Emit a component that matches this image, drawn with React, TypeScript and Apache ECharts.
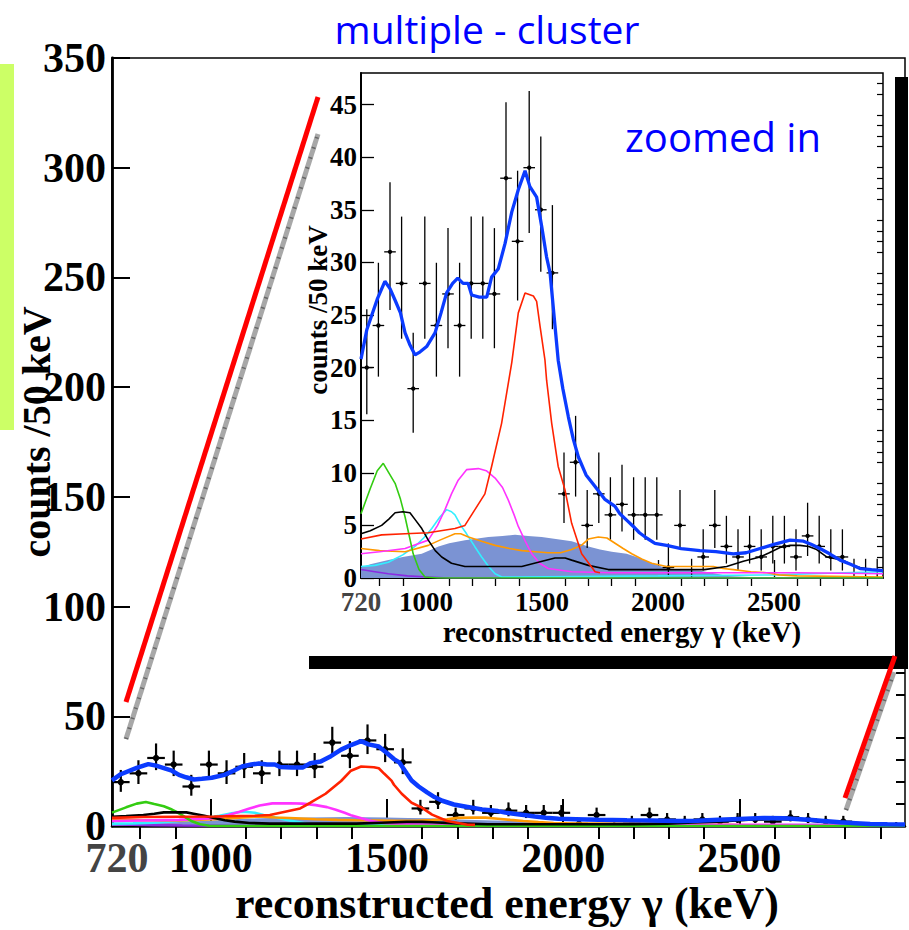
import React, { useEffect, useRef } from "react";
import * as echarts from "echarts";

// Energy range of the spectrum (keV) and the 50 keV binning
const E_MIN = 720;
const E_MAX = 2970;
const BIN_HALF = 25;

// Bin centres (keV) and measured counts per 50 keV bin
const binCenters = [
  745, 795, 845, 895, 945, 995, 1045, 1095, 1145, 1195, 1245, 1295, 1345, 1395, 1445,
  1495, 1545, 1595, 1645, 1695, 1745, 1795, 1845, 1895, 1945, 1995, 2045, 2095, 2145,
  2195, 2245, 2295, 2345, 2395, 2445, 2495, 2545, 2595, 2645, 2695, 2745, 2795, 2845,
  2895, 2945,
];
const counts = [
  20, 24, 31, 28, 18, 28, 24, 27, 24, 28, 28, 27, 38, 32, 39,
  35, 29, 8, 11, 5, 8, 6, 7, 6, 6, 6, 1, 5, 0,
  2, 5, 3, 2, 3, 2, 3, 3, 2, 4, 3, 2, 2, 0,
  0, 0,
];

// Fit components, [energy keV, counts]
const totalFit = [
  [720, 20.8], [745, 23.6], [790, 26.5], [823, 28.2], [845, 27.5], [867, 26.4], [890, 25.2],
  [910, 23.3], [930, 22.2], [953, 21.2], [975, 21.5], [1003, 22.0], [1039, 23.3], [1065, 25.2],
  [1089, 27.1], [1115, 28.0], [1137, 28.5], [1160, 28.0], [1182, 28.0], [1197, 26.9],
  [1230, 26.7], [1262, 26.7], [1283, 28.6], [1312, 29.4], [1341, 31.8], [1370, 34.8],
  [1398, 36.9], [1427, 38.7], [1448, 37.2], [1477, 36.2], [1499, 33.4], [1520, 30.5],
  [1535, 29.0], [1556, 24.0], [1570, 20.7], [1590, 18.0], [1614, 15.3], [1635, 13.2],
  [1657, 11.5], [1690, 9.8], [1729, 8.7], [1770, 7.5], [1815, 6.8], [1836, 6.1], [1865, 5.5],
  [1894, 4.9], [1920, 4.3], [1951, 3.8], [1987, 3.3], [2037, 3.1], [2100, 2.8], [2181, 2.6],
  [2250, 2.5], [2325, 2.3], [2380, 2.4], [2440, 2.8], [2500, 3.2], [2569, 3.6], [2627, 3.5],
  [2660, 3.2], [2698, 2.8], [2740, 2.3], [2785, 1.7], [2830, 1.3], [2871, 0.9], [2920, 0.8],
  [2970, 0.7],
];
const peakRed = [
  [720, 3.7], [809, 4.1], [910, 4.2], [1010, 4.3], [1125, 4.7], [1168, 5.0], [1211, 6.5],
  [1254, 8.0], [1283, 10.6], [1326, 14.7], [1370, 20.5], [1398, 25.2], [1427, 27.1],
  [1463, 26.8], [1477, 26.3], [1492, 23.9], [1513, 20.7], [1520, 18.8], [1542, 14.7],
  [1570, 10.6], [1599, 8.4], [1628, 5.2], [1671, 2.3], [1729, 0.6], [1750, 0.5],
];
const peakGreen = [
  [720, 6.1], [760, 8.5], [790, 10.2], [816, 10.9], [840, 10.0], [867, 9.0], [890, 7.5],
  [910, 5.8], [930, 3.8], [945, 2.3], [970, 0.8], [996, 0.1], [1050, 0], [2970, 0],
];
const compBlack = [
  [720, 4.2], [760, 4.5], [809, 5.0], [840, 5.6], [867, 6.2], [900, 6.3], [931, 6.2],
  [955, 5.5], [982, 4.7], [1010, 3.6], [1040, 2.6], [1068, 2.0], [1110, 1.4], [1168, 1.1],
  [1300, 1.1], [1413, 1.1], [1484, 1.5], [1556, 1.9], [1600, 1.9], [1628, 1.7], [1700, 1.2],
  [1786, 0.8], [2000, 0.8], [2200, 0.8], [2296, 1.1], [2368, 1.6], [2440, 2.0], [2480, 2.4],
  [2526, 2.9], [2570, 3.1], [2612, 3.1], [2650, 3.0], [2684, 2.7], [2727, 2.0], [2798, 1.7],
  [2840, 1.2], [2871, 1.0], [2920, 0.8], [2970, 0.7],
];
const compMagenta = [
  [720, 2.3], [800, 2.5], [910, 2.8], [1010, 3.6], [1050, 5.0], [1082, 6.5], [1110, 8.0],
  [1139, 9.3], [1175, 10.3], [1226, 10.4], [1260, 10.2], [1298, 9.5], [1330, 8.6],
  [1355, 7.4], [1380, 6.0], [1398, 4.9], [1430, 3.4], [1456, 2.3], [1490, 1.4], [1527, 0.9],
  [1628, 0.6], [1800, 0.5], [2200, 0.5], [2600, 0.5], [2970, 0.4],
];
const compCyan = [
  [720, 1.1], [780, 1.2], [838, 1.5], [900, 2.2], [953, 3.0], [990, 3.8], [1025, 4.7],
  [1060, 5.8], [1089, 6.5], [1110, 6.3], [1125, 6.0], [1150, 5.0], [1175, 4.2], [1210, 3.0],
  [1240, 2.0], [1270, 1.1], [1298, 0.4], [1327, 0.1], [1400, 0.1], [2000, 0.2], [2500, 0.3],
  [2800, 0.5], [2970, 0.6],
];
const compOrange = [
  [720, 2.8], [800, 2.6], [910, 2.5], [1010, 3.1], [1060, 3.6], [1125, 4.2], [1150, 4.2],
  [1183, 3.9], [1240, 3.5], [1298, 3.1], [1360, 2.8], [1413, 2.6], [1470, 2.5], [1527, 2.4],
  [1580, 2.4], [1628, 2.7], [1670, 3.1], [1700, 3.7], [1743, 3.9], [1780, 3.8], [1815, 3.3],
  [1850, 2.8], [1887, 2.3], [1930, 1.8], [1973, 1.4], [2037, 1.1], [2150, 1.1], [2239, 1.1],
  [2280, 0.9], [2325, 0.8], [2400, 0.6], [2469, 0.5], [2520, 0.3], [2600, 0.2], [2970, 0.1],
];
const compPurple = [
  [720, 0.8], [780, 0.6], [838, 0.4], [920, 0.2], [1010, 0.1], [1100, 0], [2970, 0],
];
const bgFill = [
  [720, 1.0], [760, 1.3], [838, 1.7], [900, 2.0], [982, 2.3], [1054, 3.0], [1100, 3.3],
  [1168, 3.6], [1269, 3.9], [1330, 4.0], [1384, 4.1], [1440, 4.0], [1499, 3.9], [1560, 3.7],
  [1628, 3.5], [1700, 3.0], [1750, 2.7], [1801, 2.5], [1865, 2.3], [1920, 1.9], [1966, 1.5],
  [2037, 0.9], [2100, 0.8], [2181, 0.7], [2253, 0.4], [2300, 0.2], [2400, 0.1], [2970, 0.1],
];

// Axis ticks and labels
const xLabelValues = [720, 1000, 1500, 2000, 2500];
const xMajorTicks = [1000, 1500, 2000, 2500];
const mainYMax = 350;
const mainYLabels = [0, 50, 100, 150, 200, 250, 300, 350];
const insetYMax = 48;
const insetYLabels = [0, 5, 10, 15, 20, 25, 30, 35, 40, 45];

const xMinorTicks: number[] = [];
for (let e = 800; e < E_MAX; e += 100) if (!xMajorTicks.includes(e)) xMinorTicks.push(e);
const mainYMinor: number[] = [];
for (let v = 10; v < mainYMax; v += 10) if (v % 50 !== 0) mainYMinor.push(v);
const insetYMinor: number[] = [];
for (let v = 1; v < insetYMax; v += 1) if (v % 5 !== 0) insetYMinor.push(v);

// 68% Poisson (Garwood) interval, Wilson-Hilferty form
function poissonLow(n: number) {
  if (n === 0) return 0;
  return n * Math.pow(1 - 1 / (9 * n) - 1 / (3 * Math.sqrt(n)), 3);
}
function poissonHigh(n: number) {
  const m = n + 1;
  return m * Math.pow(1 - 1 / (9 * m) + 1 / (3 * Math.sqrt(m)), 3);
}

const SERIF = "Liberation Serif";
const SANS = "Open Sans";

function xLabelFormatter(v: number) {
  return v === 720 ? "{g|720}" : String(v);
}

function buildPanel(xi: number, yi: number, big: boolean) {
  const wComp = big ? 2.6 : 1.6;
  const wTotal = big ? 4.5 : 3.3;
  const line = (name: string, data: number[][], color: string, width: number, z: number) => ({
    type: "line",
    name,
    data,
    xAxisIndex: xi,
    yAxisIndex: yi,
    symbol: "none",
    silent: true,
    clip: true,
    z,
    lineStyle: { color, width },
  });
  const points = binCenters.map((e, i) => [e, counts[i], poissonLow(counts[i]), poissonHigh(counts[i])]);
  const barW = big ? 2.2 : 1.3;
  const dotR = big ? 3.2 : 2.2;
  return [
    {
      type: "line",
      name: "background",
      data: bgFill,
      xAxisIndex: xi,
      yAxisIndex: yi,
      symbol: "none",
      silent: true,
      z: 2,
      lineStyle: { width: 0 },
      areaStyle: { color: "#7b93d3", opacity: 1 },
    },
    {
      type: "custom",
      name: "data",
      xAxisIndex: xi,
      yAxisIndex: yi,
      silent: true,
      clip: true,
      z: 3,
      data: points,
      encode: { x: 0, y: 1 },
      renderItem: (_params: any, api: any) => {
        const e = api.value(0);
        const n = api.value(1);
        const c = api.coord([e, n]);
        const l = api.coord([e - BIN_HALF, n]);
        const r = api.coord([e + BIN_HALF, n]);
        const t = api.coord([e, api.value(3)]);
        const b = api.coord([e, api.value(2)]);
        const stroke = { stroke: "#000", lineWidth: barW };
        const children: any[] = [
          { type: "line", shape: { x1: c[0], y1: t[1], x2: c[0], y2: b[1] }, style: stroke },
        ];
        if (n > 0) {
          children.push({ type: "line", shape: { x1: l[0], y1: c[1], x2: r[0], y2: c[1] }, style: stroke });
          children.push({ type: "circle", shape: { cx: c[0], cy: c[1], r: dotR }, style: { fill: "#000" } });
        }
        return { type: "group", children };
      },
    },
    line("purple", compPurple, "#8a2be2", wComp, 4),
    line("cyan", compCyan, "#33eeff", wComp, 4),
    line("orange", compOrange, "#ff9900", wComp, 4),
    line("magenta", compMagenta, "#ff33ff", wComp, 4),
    line("black", compBlack, "#000000", wComp, 5),
    line("green", peakGreen, "#33cc11", wComp, 4),
    line("red", peakRed, "#ff2200", wComp, 5),
    line("total", totalFit, "#0b3bff", wTotal, 6),
  ];
}

function xAxes(gridIndex: number, big: boolean) {
  const fs = big ? 42 : 27;
  const lh = big ? 30 : 20;
  return [
    {
      type: "value",
      gridIndex,
      min: E_MIN,
      max: E_MAX,
      axisLine: { show: true, lineStyle: { color: "#000", width: big ? 2.5 : 1.8 } },
      axisTick: {
        show: true,
        inside: true,
        length: big ? 27 : 18,
        customValues: xMajorTicks,
        lineStyle: { color: "#000", width: big ? 2 : 1.3 },
      },
      axisLabel: {
        show: true,
        customValues: xLabelValues,
        formatter: xLabelFormatter,
        color: "#000",
        fontFamily: SERIF,
        fontWeight: "bold",
        fontSize: fs,
        lineHeight: lh,
        margin: big ? 17 : 14,
        rich: {
          g: {
            color: "#444",
            fontFamily: SERIF,
            fontWeight: "bold",
            fontSize: fs,
            lineHeight: lh,
            padding: big ? [0, 0, 0, 10] : [0, 0, 0, 0],
          },
        },
      },
      splitLine: { show: false },
    },
    {
      type: "value",
      gridIndex,
      min: E_MIN,
      max: E_MAX,
      axisLine: { show: false },
      axisTick: {
        show: true,
        inside: true,
        length: big ? 13 : 8,
        customValues: xMinorTicks,
        lineStyle: { color: "#000", width: big ? 2 : 1.3 },
      },
      axisLabel: { show: false },
      splitLine: { show: false },
    },
  ];
}

function yAxes(gridIndex: number, big: boolean) {
  const max = big ? mainYMax : insetYMax;
  return [
    {
      type: "value",
      gridIndex,
      min: 0,
      max,
      axisLine: { show: true, lineStyle: { color: "#000", width: big ? 2.8 : 2 } },
      axisTick: {
        show: true,
        inside: true,
        length: big ? 18 : 13,
        customValues: big ? mainYLabels : insetYLabels,
        lineStyle: { color: "#000", width: big ? 2 : 1.3 },
      },
      axisLabel: {
        show: true,
        customValues: big ? mainYLabels : insetYLabels,
        color: "#000",
        fontFamily: SERIF,
        fontWeight: "bold",
        fontSize: big ? 42 : 27,
        lineHeight: big ? 30 : 20,
        margin: big ? 6 : 4,
      },
      splitLine: { show: false },
    },
    {
      type: "value",
      gridIndex,
      min: 0,
      max,
      axisLine: { show: false },
      axisTick: {
        show: true,
        inside: true,
        length: big ? 9 : 6,
        customValues: big ? mainYMinor : insetYMinor,
        lineStyle: { color: "#000", width: big ? 2 : 1.2 },
      },
      axisLabel: { show: false },
      splitLine: { show: false },
    },
  ];
}

export default function App() {
  const ref = useRef<HTMLDivElement>(null);

  useEffect(() => {
    if (!ref.current) return;
    const chart = echarts.init(ref.current, undefined, { renderer: "svg" });

    const serifBold = (size: number) => `bold ${size}px "${SERIF}"`;

    const option: any = {
      animation: false,
      backgroundColor: "#ffffff",
      grid: [
        { left: 112, top: 58, width: 793, height: 768, show: true, borderColor: "#000", borderWidth: 1.5, backgroundColor: "transparent" },
        { left: 361, top: 73, width: 522, height: 505, show: true, borderColor: "#000", borderWidth: 1.5, backgroundColor: "#ffffff" },
      ],
      xAxis: [...xAxes(0, true), ...xAxes(1, false)],
      yAxis: [...yAxes(0, true), ...yAxes(1, false)],
      series: [...buildPanel(0, 0, true), ...buildPanel(2, 2, false)],
      graphic: [
        // side marker strip
        { type: "rect", z: 100, shape: { x: 0, y: 64, width: 14, height: 366 }, style: { fill: "#ccff66" } },
        // frame bars around the zoomed panel
        { type: "rect", z: 100, shape: { x: 309, y: 656, width: 586, height: 13 }, style: { fill: "#000" } },
        { type: "rect", z: 100, shape: { x: 895, y: 77, width: 13, height: 592 }, style: { fill: "#000" } },
        // zoom guide lines
        { type: "line", z: 100, shape: { x1: 126, y1: 739, x2: 318, y2: 134 }, style: { stroke: "#a8a8a8", lineWidth: 5 } },
        { type: "line", z: 101, shape: { x1: 126, y1: 739, x2: 318, y2: 134 }, style: { stroke: "#666", lineWidth: 4, lineDash: [1.5, 9] } },
        { type: "line", z: 102, shape: { x1: 126, y1: 702, x2: 318, y2: 97 }, style: { stroke: "#ff0000", lineWidth: 5 } },
        { type: "line", z: 100, shape: { x1: 846, y1: 810, x2: 894, y2: 672 }, style: { stroke: "#a8a8a8", lineWidth: 5 } },
        { type: "line", z: 101, shape: { x1: 846, y1: 810, x2: 894, y2: 672 }, style: { stroke: "#666", lineWidth: 4, lineDash: [1.5, 9] } },
        { type: "line", z: 102, shape: { x1: 845, y1: 798, x2: 895, y2: 656 }, style: { stroke: "#ff0000", lineWidth: 5 } },
        // headings
        {
          type: "text", z: 110, x: 487, y: 28,
          style: { text: "multiple - cluster", fill: "#0000ff", font: `39px "${SANS}"`, textAlign: "center", textVerticalAlign: "middle" },
        },
        {
          type: "text", z: 110, x: 723, y: 136,
          style: { text: "zoomed in", fill: "#0000ff", font: `40px "${SANS}"`, textAlign: "center", textVerticalAlign: "middle" },
        },
        // axis titles
        {
          type: "text", z: 110, x: 507, y: 903,
          style: { text: "reconstructed energy γ (keV)", fill: "#000", font: serifBold(44), textAlign: "center", textVerticalAlign: "middle" },
        },
        {
          type: "text", z: 110, x: 36, y: 432, rotation: Math.PI / 2,
          style: { text: "counts /50 keV", fill: "#000", font: serifBold(40), textAlign: "center", textVerticalAlign: "middle" },
        },
        {
          type: "text", z: 110, x: 622, y: 632,
          style: { text: "reconstructed energy γ (keV)", fill: "#000", font: serifBold(29), textAlign: "center", textVerticalAlign: "middle" },
        },
        {
          type: "text", z: 110, x: 318, y: 310, rotation: Math.PI / 2,
          style: { text: "counts /50 keV", fill: "#000", font: serifBold(27), textAlign: "center", textVerticalAlign: "middle" },
        },
      ],
    };

    chart.setOption(option);
    return () => chart.dispose();
  }, []);

  return (
    <div
      ref={ref}
      style={{ position: "absolute", left: 0, top: 0, width: 909, height: 930, background: "#fff" }}
    />
  );
}
